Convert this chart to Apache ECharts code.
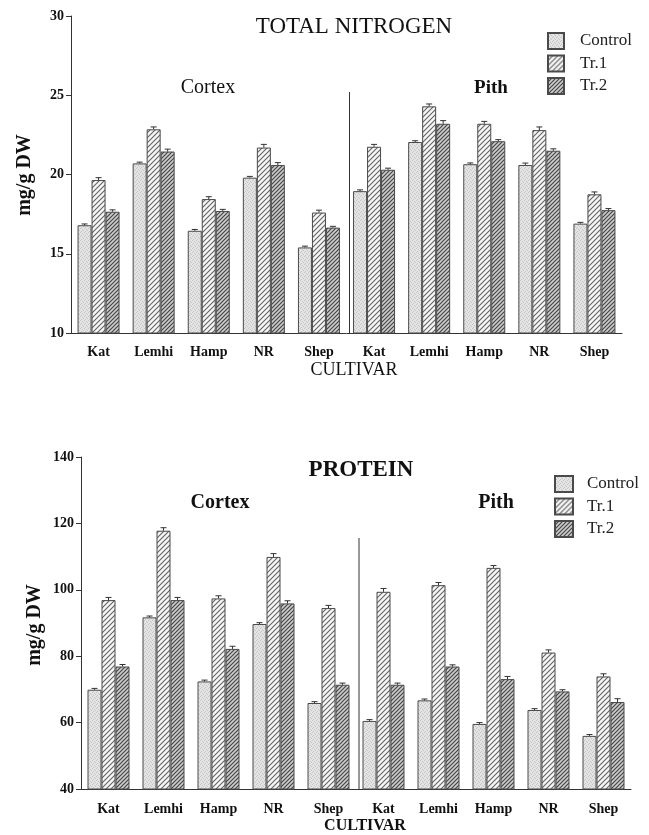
<!DOCTYPE html>
<html>
<head>
<meta charset="utf-8">
<script src="https://cdn.jsdelivr.net/npm/echarts@6/dist/echarts.min.js"></script>
<style>html,body{margin:0;padding:0;background:#fff}#c{width:649px;height:835px}</style>
</head>
<body>
<div id="c"></div>
<script>
// ---- data ----
const cultivars = ['Kat', 'Lemhi', 'Hamp', 'NR', 'Shep'];
const tissues = ['Cortex', 'Pith'];
const treatments = ['Control', 'Tr.1', 'Tr.2'];
const nitrogenTicks = [10, 15, 20, 25, 30];
const proteinTicks = [40, 60, 80, 100, 120, 140];

// Total nitrogen (mg/g DW), order: Cortex Kat..Shep, Pith Kat..Shep
const nControl = [16.8, 20.7, 16.45, 19.8, 15.4, 18.95, 22.05, 20.65, 20.6, 16.9];
const nTr1     = [19.65, 22.85, 18.45, 21.7, 17.6, 21.75, 24.3, 23.2, 22.8, 18.75];
const nTr2     = [17.65, 21.45, 17.7, 20.6, 16.65, 20.3, 23.2, 22.1, 21.5, 17.75];
const nErrControl = [0.08, 0.08, 0.08, 0.08, 0.08, 0.08, 0.08, 0.08, 0.12, 0.08];
const nErrTr1     = [0.15, 0.15, 0.15, 0.2, 0.15, 0.15, 0.15, 0.15, 0.2, 0.15];
const nErrTr2     = [0.12, 0.15, 0.1, 0.15, 0.08, 0.1, 0.2, 0.1, 0.12, 0.1];

// Protein (mg/g DW)
const pControl = [69.9, 91.7, 72.4, 89.7, 65.9, 60.5, 66.7, 59.6, 63.8, 56.0];
const pTr1     = [96.9, 117.8, 97.4, 109.9, 94.5, 99.4, 101.4, 106.6, 81.1, 73.9];
const pTr2     = [76.9, 96.9, 82.2, 95.9, 71.4, 71.4, 76.9, 73.1, 69.4, 66.2];
const pErrControl = [0.4, 0.4, 0.4, 0.4, 0.4, 0.4, 0.4, 0.4, 0.4, 0.4];
const pErrTr1     = [0.8, 0.9, 0.8, 1.0, 0.8, 1.0, 0.8, 0.7, 0.8, 0.8];
const pErrTr2     = [0.6, 0.8, 0.8, 0.8, 0.5, 0.5, 0.5, 0.8, 0.5, 1.0];

// ---- build ----
const categories = [];
tissues.forEach(t => cultivars.forEach(c => categories.push(t + '|' + c)));

function pattern(w, bg, lineColor, lw, dots) {
  const cv = document.createElement('canvas');
  cv.width = w; cv.height = w;
  const ctx = cv.getContext('2d');
  ctx.fillStyle = bg; ctx.fillRect(0, 0, w, w);
  if (lineColor) {
    ctx.strokeStyle = lineColor; ctx.lineWidth = lw;
    ctx.beginPath();
    ctx.moveTo(-1, w + 1); ctx.lineTo(w + 1, -1);
    ctx.moveTo(-1, 1); ctx.lineTo(1, -1);
    ctx.moveTo(w - 1, w + 1); ctx.lineTo(w + 1, w - 1);
    ctx.stroke();
  }
  if (dots) {
    ctx.fillStyle = dots;
    [[0,0],[2,1],[1,3],[3,2]].forEach(p => ctx.fillRect(p[0], p[1], 1, 1));
  }
  return { image: cv, repeat: 'repeat' };
}
const fills = [
  pattern(4, '#e4e4e4', null, 0, '#c4c4c4'),
  pattern(5, '#f6f6f6', '#636363', 1.1, null),
  pattern(4, '#cdcdcd', '#454545', 1.2, null)
];

const FONT = 'Liberation Serif';
const BARW = 14;

function barSeries(vals, i, ax) {
  return {
    type: 'bar', name: treatments[i], xAxisIndex: ax, yAxisIndex: ax,
    data: vals, barWidth: BARW, barGap: '0%',
    itemStyle: { color: fills[i], borderColor: '#4a4a4a', borderWidth: 1 },
    animation: false
  };
}
function errSeries(valsArr, errArr, ax) {
  const d = [];
  valsArr.forEach((vals, s) => vals.forEach((v, k) => d.push([k, v, errArr[s][k], s])));
  return {
    type: 'custom', xAxisIndex: ax, yAxisIndex: ax, data: d, z: 5, animation: false,
    silent: true,
    renderItem: function (params, api) {
      const k = api.value(0), v = api.value(1), e = api.value(2), s = api.value(3);
      const p0 = api.coord([k, v]), p1 = api.coord([k, v + e]);
      const x = p0[0] + (s - 1) * BARW;
      const st = { stroke: '#333', lineWidth: 1 };
      return { type: 'group', children: [
        { type: 'line', shape: { x1: x, y1: p0[1], x2: x, y2: p1[1] }, style: st },
        { type: 'line', shape: { x1: x - 3, y1: p1[1], x2: x + 3, y2: p1[1] }, style: st }
      ]};
    }
  };
}

function xAxis(grid, margin) {
  return {
    type: 'category', gridIndex: grid, data: categories,
    axisLine: { lineStyle: { color: '#333', width: 1 } },
    axisTick: { show: false },
    axisLabel: { margin: margin, color: '#111', fontFamily: FONT, fontWeight: 'bold', fontSize: 14,
      formatter: v => v.split('|')[1] }
  };
}
function yAxis(grid, ticks) {
  return {
    type: 'value', gridIndex: grid, min: ticks[0], max: ticks[ticks.length - 1],
    interval: ticks[1] - ticks[0],
    axisLine: { show: true, lineStyle: { color: '#333', width: 1 } },
    axisTick: { show: true, length: 5, lineStyle: { color: '#333' } },
    splitLine: { show: false },
    axisLabel: { margin: 7, color: '#111', fontFamily: FONT, fontWeight: 'bold', fontSize: 14 }
  };
}
function txt(s, x, y, size, bold, rot) {
  return { type: 'text', x: x, y: y, rotation: rot || 0, z: 10,
    style: { text: s, fontFamily: FONT, fontSize: size, fontWeight: bold ? 'bold' : 'normal',
      fill: '#111', align: 'center', verticalAlign: 'middle' } };
}

const chart = echarts.init(document.getElementById('c'), null, { renderer: 'canvas' });
const option = {
  animation: false,
  backgroundColor: '#fff',
  grid: [
    { left: 71, top: 16, width: 551, height: 317 },
    { left: 81, top: 457, width: 550, height: 332 }
  ],
  xAxis: [xAxis(0, 12), xAxis(1, 13)],
  yAxis: [yAxis(0, nitrogenTicks), yAxis(1, proteinTicks)],
  legend: [
    { data: treatments, orient: 'vertical', left: 547, top: 32, itemWidth: 16, itemHeight: 16, itemGap: 4.5,
      icon: 'rect', selectedMode: false, padding: 0,
      textStyle: { fontFamily: FONT, fontSize: 17, color: '#222', padding: [0, 0, 0, 11] } },
    { data: treatments, orient: 'vertical', left: 554, top: 475, itemWidth: 18, itemHeight: 16, itemGap: 4.5,
      icon: 'rect', selectedMode: false, padding: 0,
      textStyle: { fontFamily: FONT, fontSize: 17, color: '#222', padding: [0, 0, 0, 9] } }
  ],
  series: [
    barSeries(nControl, 0, 0), barSeries(nTr1, 1, 0), barSeries(nTr2, 2, 0),
    errSeries([nControl, nTr1, nTr2], [nErrControl, nErrTr1, nErrTr2], 0),
    barSeries(pControl, 0, 1), barSeries(pTr1, 1, 1), barSeries(pTr2, 2, 1),
    errSeries([pControl, pTr1, pTr2], [pErrControl, pErrTr1, pErrTr2], 1)
  ]
};
chart.setOption(option);

// divider lines between Cortex and Pith groups + texts
function divider(ax, yTopVal, yBotVal) {
  const a = chart.convertToPixel({ xAxisIndex: ax, yAxisIndex: ax }, [4, yTopVal]);
  const b = chart.convertToPixel({ xAxisIndex: ax, yAxisIndex: ax }, [5, yBotVal]);
  const x = (a[0] + b[0]) / 2 + 3;
  return { type: 'line', z: 10, shape: { x1: x, y1: a[1], x2: x, y2: b[1] },
    style: { stroke: '#333', lineWidth: 1 } };
}
chart.setOption({
  graphic: [
    divider(0, 25.2, 10),
    divider(1, 115.6, 40),
    txt('TOTAL NITROGEN', 354, 27, 23, false),
    txt(tissues[0], 208, 88, 20, false),
    txt(tissues[1], 491, 88, 19, true),
    txt('CULTIVAR', 354, 370, 18, false),
    txt('mg/g DW', 25, 175, 20, true, Math.PI / 2),
    txt('PROTEIN', 361, 470, 23, true),
    txt(tissues[0], 220, 503, 20, true),
    txt(tissues[1], 496, 503, 20, true),
    txt('CULTIVAR', 365, 826, 16, true),
    txt('mg/g DW', 35, 625, 20, true, Math.PI / 2)
  ]
});
</script>
</body>
</html>
